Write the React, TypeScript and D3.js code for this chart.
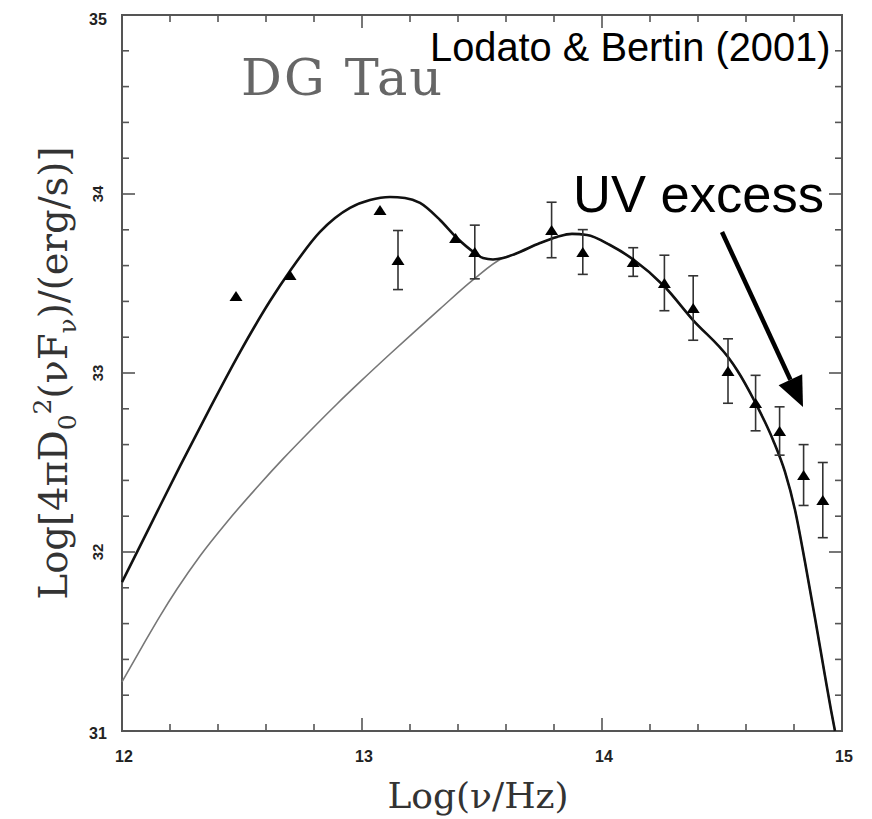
import React from "react";
import * as d3 from "d3";

// ---- data ----
const obsX = [12.475, 12.70, 13.075, 13.15, 13.39, 13.47, 13.79, 13.92, 14.13, 14.26, 14.38, 14.525, 14.64, 14.74, 14.84, 14.92];
const obsY = [33.43, 33.547, 33.911, 33.631, 33.754, 33.676, 33.799, 33.676, 33.62, 33.503, 33.363, 33.011, 32.832, 32.676, 32.43, 32.29];
const obsErr = [0, 0, 0, 0.165, 0, 0.15, 0.155, 0.125, 0.08, 0.155, 0.18, 0.18, 0.155, 0.135, 0.17, 0.21];

const totalX = [12.0, 12.1167, 12.2417, 12.3667, 12.4917, 12.6167, 12.7, 12.825, 12.95, 13.0333, 13.1167, 13.1792, 13.2417, 13.325, 13.3958, 13.4708, 13.5042, 13.5458, 13.5875, 13.6375, 13.7417, 13.8125, 13.875, 13.9375, 14.0333, 14.1333, 14.2583, 14.3792, 14.525, 14.5625, 14.6375, 14.7125, 14.7625, 14.8042, 14.8458, 14.8875, 14.9292, 14.9542, 14.9708];
const totalY = [31.832, 32.145, 32.48, 32.804, 33.117, 33.402, 33.57, 33.788, 33.922, 33.966, 33.983, 33.978, 33.95, 33.855, 33.754, 33.67, 33.642, 33.634, 33.642, 33.665, 33.726, 33.76, 33.777, 33.771, 33.715, 33.631, 33.486, 33.296, 33.089, 33.017, 32.838, 32.626, 32.447, 32.235, 31.944, 31.631, 31.307, 31.117, 31.0];

const diskX = [12.0, 12.0875, 12.1583, 12.2292, 12.325, 12.4375, 12.575, 12.6708, 12.7833, 12.8958, 12.9917, 13.1167, 13.2125, 13.325, 13.4625, 13.5875, 13.6375];
const diskY = [31.274, 31.48, 31.642, 31.793, 31.978, 32.168, 32.38, 32.52, 32.676, 32.827, 32.95, 33.106, 33.223, 33.358, 33.52, 33.642, 33.665];

const xTicks = [12, 13, 14, 15];
const yTicks = [31, 32, 33, 34, 35];

const W = 872, H = 819;
const M = { left: 122, right: 842, top: 15, bottom: 731 };

export default function App() {
  const x = d3.scaleLinear().domain([12, 15]).range([M.left, M.right]);
  const y = d3.scaleLinear().domain([31, 35]).range([M.bottom, M.top]);

  const line = d3.line<[number, number]>().x(d => x(d[0])).y(d => y(d[1])).curve(d3.curveMonotoneX);

  const totalPts: [number, number][] = totalX.map((v, i) => [v, totalY[i]]);
  const diskPts: [number, number][] = diskX.map((v, i) => [v, diskY[i]] as [number, number])
    .concat(totalPts.filter(p => p[0] > diskX[diskX.length - 1]));

  const xMinor = d3.range(12, 15.0001, 0.2);
  const yMinor = d3.range(31, 35.0001, 0.2);
  const isMajor = (v: number) => Math.abs(v - Math.round(v)) < 1e-6;
  const MAJ = 13, MIN = 7;
  const frameColor = "#555";

  const tri = (cx: number, cy: number) => {
    const w = 6.5, h = 10;
    return `M${cx - w},${cy + h / 2} L${cx + w},${cy + h / 2} L${cx},${cy - h / 2} Z`;
  };

  // arrow annotation in data coords
  const a0 = [x(14.5), y(33.788)];
  const a1 = [x(14.8375), y(32.81)];
  const ang = Math.atan2(a1[1] - a0[1], a1[0] - a0[0]);
  const headL = 30, headW = 13;
  const bx = a1[0] - headL * Math.cos(ang), by = a1[1] - headL * Math.sin(ang);
  const px = -Math.sin(ang), py = Math.cos(ang);

  return (
    <div style={{ position: "absolute", left: 0, top: 0 }}>
      <svg width={W} height={H} style={{ display: "block", background: "#fff" }}>
        {/* frame */}
        <rect x={M.left} y={M.top} width={M.right - M.left} height={M.bottom - M.top} fill="none" stroke={frameColor} strokeWidth={2} />
        {xMinor.map((v, i) => {
          const L = isMajor(v) ? MAJ : MIN;
          return (
            <g key={"xt" + i} stroke={frameColor} strokeWidth={1.6}>
              <line x1={x(v)} x2={x(v)} y1={M.bottom} y2={M.bottom - L} />
              <line x1={x(v)} x2={x(v)} y1={M.top} y2={M.top + L} />
            </g>
          );
        })}
        {yMinor.map((v, i) => {
          const L = isMajor(v) ? MAJ : MIN;
          return (
            <g key={"yt" + i} stroke={frameColor} strokeWidth={1.6}>
              <line x1={M.left} x2={M.left + L} y1={y(v)} y2={y(v)} />
              <line x1={M.right} x2={M.right - L} y1={y(v)} y2={y(v)} />
            </g>
          );
        })}
        {/* tick labels */}
        {xTicks.map(v => (
          <text key={"xl" + v} x={x(v) + 2} y={762} textAnchor="middle" fontFamily="Liberation Sans, Arial, sans-serif" fontWeight="bold" fontSize={16} fill="#222">{v}</text>
        ))}
        {yTicks.map(v => {
          const rot = v !== 31 && v !== 35;
          const cx = 98, cy = y(v) + (v === 35 ? 4 : v === 31 ? 2 : 0);
          return rot ? (
            <text key={"yl" + v} transform={`translate(${cx + 5},${cy}) rotate(-90)`} textAnchor="middle" fontFamily="Liberation Sans, Arial, sans-serif" fontWeight="bold" fontSize={15} fill="#222">{v}</text>
          ) : (
            <text key={"yl" + v} x={cx} y={cy + 6} textAnchor="middle" fontFamily="Liberation Sans, Arial, sans-serif" fontWeight="bold" fontSize={16} fill="#222">{v}</text>
          );
        })}
        {/* axis labels */}
        <text x={478} y={808} textAnchor="middle" fontFamily="DejaVu Serif, serif" fontSize={36} fill="#333">
          Log(ν/Hz)
        </text>
        <text transform={`translate(67,373) rotate(-90)`} textAnchor="middle" fontFamily="DejaVu Serif, serif" fontSize={38.5} fill="#333">
          Log[4πD<tspan fontSize={25} dy={9}>0</tspan><tspan fontSize={25} dy={-25}>2</tspan><tspan dy={16}>(νF</tspan><tspan fontSize={25} dy={9}>ν</tspan><tspan dy={-9}>)/(erg/s)]</tspan>
        </text>
        {/* DG Tau */}
        <text x={241} y={95} fontFamily="DejaVu Serif, serif" fontSize={51} letterSpacing={2} fill="#666">DG Tau</text>
        {/* curves */}
        <path d={line(diskPts) || ""} fill="none" stroke="#777" strokeWidth={1.6} />
        <path d={line(totalPts) || ""} fill="none" stroke="#111" strokeWidth={2.6} />
        {/* data */}
        {obsX.map((v, i) => {
          const cx = x(v), cy = y(obsY[i]);
          const e = obsErr[i];
          return (
            <g key={"p" + i}>
              {e > 0 && (
                <g stroke="#333" strokeWidth={1.6}>
                  <line x1={cx} x2={cx} y1={y(obsY[i] + e)} y2={y(obsY[i] - e)} />
                  <line x1={cx - 5} x2={cx + 5} y1={y(obsY[i] + e)} y2={y(obsY[i] + e)} />
                  <line x1={cx - 5} x2={cx + 5} y1={y(obsY[i] - e)} y2={y(obsY[i] - e)} />
                </g>
              )}
              <path d={tri(cx, cy)} fill="#000" />
            </g>
          );
        })}
        {/* annotations */}
        <text x={430} y={61} fontFamily="Liberation Sans, Arial, sans-serif" fontSize={39.8} fill="#000">Lodato &amp; Bertin (2001)</text>
        <text x={573} y={212} fontFamily="Liberation Sans, Arial, sans-serif" fontSize={52.5} fill="#000">UV excess</text>
        <line x1={a0[0]} y1={a0[1]} x2={bx} y2={by} stroke="#000" strokeWidth={4.5} />
        <path d={`M${a1[0]},${a1[1]} L${bx + px * headW},${by + py * headW} L${bx - px * headW},${by - py * headW} Z`} fill="#000" />
      </svg>
    </div>
  );
}
